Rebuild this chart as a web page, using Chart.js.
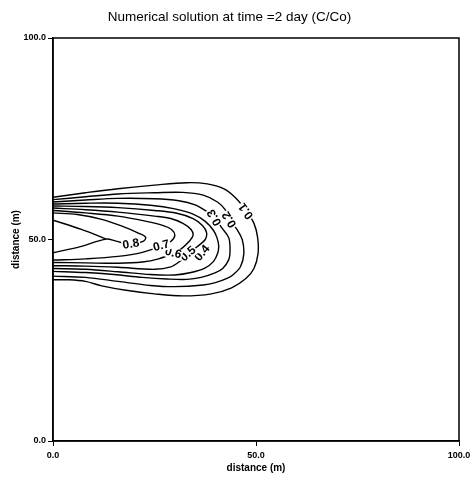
<!DOCTYPE html>
<html>
<head>
<meta charset="utf-8">
<script src="https://cdn.jsdelivr.net/npm/chart.js@4.4.1/dist/chart.umd.min.js"></script>
<style>
  body { margin: 0; background: #fff; }
</style>
</head>
<body>
<canvas id="contourChart" width="475" height="495"></canvas>
<script>
// Contour levels (C/Co) and their traced lines, [distance x (m), distance y (m)]
const levels = ['0.1', '0.2', '0.3', '0.4', '0.5', '0.6', '0.7', '0.8'];

const c01 = [[0,60.5],[8,61.6],[16,62.6],[25,63.5],[33,64.1],[38,63.8],[42,62.6],[45,60.3],[47.6,57.1],[49.5,54],[50.4,50.5],[50.5,46.5],[49.5,42.8],[47.5,40.3],[44,38],[39,36.5],[32,36],[25,36.5],[18,37.4],[12,38.5],[8,39.6],[4,40],[0,40]];
const c02 = [[0,59.9],[8,60.6],[16,61.3],[25,61.6],[32,61.7],[37,61],[40.5,59.3],[42.5,57.3],[43.5,55],[45.3,52.5],[46.6,50],[47,46.5],[46.2,43.3],[44.5,41.4],[43,40.4],[40,39.3],[37,38.7],[30,38.3],[24,38.6],[16,39.6],[8,40.6],[0,40.9]];
const c03 = [[0,59.3],[8,59.8],[16,60.2],[25,60.1],[31,59.6],[35,58.6],[37.8,57],[39.8,55.5],[41.5,53],[43.3,50.4],[43.6,47],[43.3,45],[41.8,42.8],[39.9,41.7],[36.5,40.6],[33,40.1],[28,40.2],[22,40.6],[15,41.3],[8,41.8],[0,42.1]];
const c04 = [[0,58.8],[8,59],[16,59],[24,58.5],[30,57.6],[34.5,56.3],[37.5,54.5],[39.5,52.3],[40.4,50.4],[40.8,48.5],[40.6,46.7],[39.5,44.5],[37.4,42.9],[34,41.8],[30,41.2],[24,41.3],[16,42],[8,42.6],[0,42.8]];
const c05 = [[0,58.3],[8,58.2],[16,57.9],[25,57.2],[30.5,56.5],[34.5,55.2],[36.8,53.5],[37.8,51.8],[37.5,50],[35.5,48.2],[33.3,46.4],[31.5,44.8],[29,43.2],[25,42.6],[16,43.1],[8,43.4],[0,43.5]];
const c06 = [[0,57.8],[8,57.4],[16,56.8],[25,55.8],[29,55.2],[32,54],[34,52.5],[34.5,51],[33.5,49.5],[31.5,47.6],[29.6,46.6],[26,45.2],[22,44.4],[16,44.1],[8,44.2],[0,44.3]];
const c07 = [[0,57.2],[8,56.6],[16,55.8],[23,54.5],[27,53.5],[29.2,52.5],[30,51],[29,49.5],[26.7,48.4],[22,46.8],[16,45.8],[8,45.2],[0,44.9]];
const c08 = [[0,56.6],[6,56.2],[12,55],[17,53.3],[21,51.6],[22.8,50.6],[22.3,49.6],[19.2,48.8],[15.5,49.6],[13.1,50.1],[7,48.3],[0,46.7]];
const c09 = [[0,54.8],[7,52.5],[13.1,50.1]];

// where each level's label sits, and its tilt in degrees
const labelX = [47.6, 43.5, 39.8, 36.8, 33.3, 29.6, 26.7, 19.2];
const labelY = [57.1, 55.0, 55.5, 46.6, 46.4, 46.6, 48.4, 48.8];
const labelAngle = [234, 239, 240, -50, -40, 15, -15, -10];

const tickValues = [0, 50, 100];

const lines = [c01, c02, c03, c04, c05, c06, c07, c08, c09];

const datasets = lines.map(pts => ({
    data: pts.map(p => ({ x: p[0], y: p[1] })),
    showLine: true,
    borderColor: '#000',
    borderWidth: 1.4,
    pointRadius: 0,
    tension: 0.35,
    fill: false
}));

// inline contour labels with a white gap behind them
const contourLabels = {
    id: 'contourLabels',
    afterDatasetsDraw(chart) {
        const { ctx, scales } = chart;
        ctx.save();
        ctx.font = 'bold 12px "Liberation Sans", Arial, sans-serif';
        ctx.textAlign = 'center';
        ctx.textBaseline = 'middle';
        levels.forEach((txt, i) => {
            const px = scales.x.getPixelForValue(labelX[i]);
            const py = scales.y.getPixelForValue(labelY[i]);
            const w = ctx.measureText(txt).width;
            ctx.save();
            ctx.translate(px, py);
            ctx.rotate(labelAngle[i] * Math.PI / 180);
            ctx.fillStyle = '#fff';
            ctx.fillRect(-w / 2 - 1, -5.5, w + 2, 11);
            ctx.fillStyle = '#000';
            ctx.fillText(txt, 0, 0);
            ctx.restore();
        });
        ctx.restore();
    }
};

// box round the plot area
const frame = {
    id: 'frame',
    afterDraw(chart) {
        const { ctx, chartArea: a } = chart;
        ctx.save();
        ctx.strokeStyle = '#000';
        ctx.lineWidth = 1.5;
        ctx.strokeRect(a.left, a.top, a.right - a.left, a.bottom - a.top);
        ctx.restore();
    }
};

const tickFont = { family: '"Liberation Sans", Arial, sans-serif', size: 9, weight: 'bold' };
const titleFont = { family: '"Liberation Sans", Arial, sans-serif', size: 10, weight: 'bold' };

new Chart(document.getElementById('contourChart'), {
    type: 'scatter',
    data: { datasets },
    options: {
        responsive: false,
        animation: false,
        layout: { padding: { left: 0, right: 16, top: 0, bottom: 0 } },
        plugins: {
            legend: { display: false },
            tooltip: { enabled: false },
            title: {
                display: true,
                text: 'Numerical solution at time =2 day (C/Co)',
                color: '#000',
                font: { family: '"Liberation Sans", Arial, sans-serif', size: 13.5, weight: 'normal' },
                padding: { top: 9, bottom: 12.8 }
            }
        },
        scales: {
            x: {
                type: 'linear',
                min: 0,
                max: 100,
                afterBuildTicks: s => { s.ticks = tickValues.map(v => ({ value: v })); },
                afterFit: s => { s.height = 54; },
                ticks: { color: '#000', font: tickFont, padding: 4, maxRotation: 0, callback: v => v.toFixed(1) },
                grid: { display: true, drawOnChartArea: false, drawTicks: true, tickLength: 5, color: '#000' },
                border: { display: true, color: '#000', width: 1.5 },
                title: { display: true, text: 'distance (m)', color: '#000', font: titleFont, padding: { top: 4, bottom: 21 } }
            },
            y: {
                type: 'linear',
                min: 0,
                max: 100,
                afterBuildTicks: s => { s.ticks = tickValues.map(v => ({ value: v })); },
                afterFit: s => { s.width = 53; },
                ticks: { color: '#000', font: tickFont, padding: 2, callback: v => v.toFixed(1) },
                grid: { display: true, drawOnChartArea: false, drawTicks: true, tickLength: 5, color: '#000' },
                border: { display: true, color: '#000', width: 1.5 },
                title: { display: true, text: 'distance (m)', color: '#000', font: titleFont, padding: { top: 10, bottom: 0 } }
            }
        }
    },
    plugins: [contourLabels, frame]
});
</script>
</body>
</html>
